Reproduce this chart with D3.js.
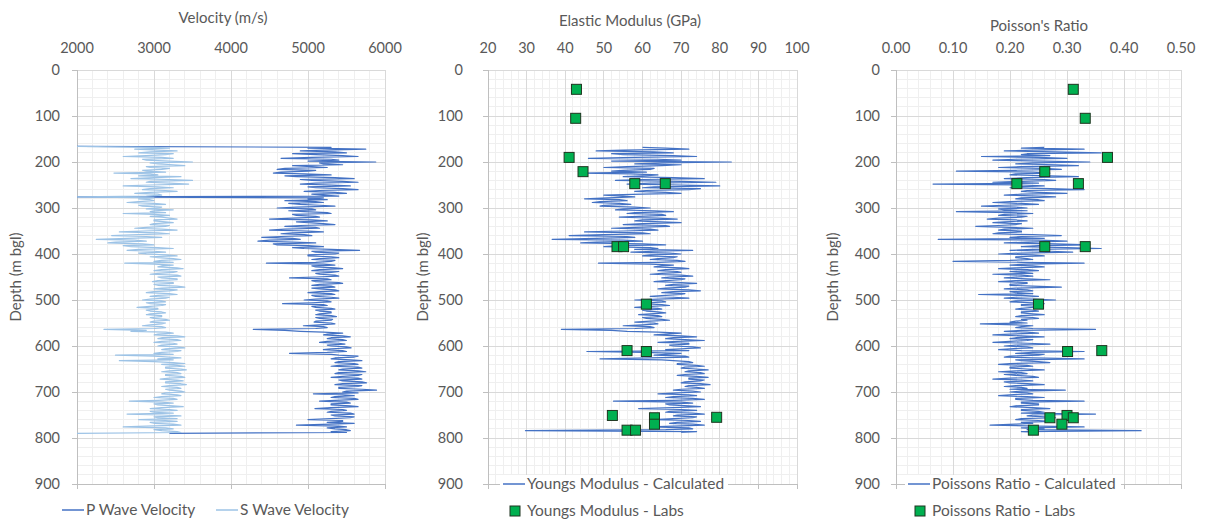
<!DOCTYPE html>
<html><head><meta charset="utf-8">
<script src="https://cdn.jsdelivr.net/npm/d3@7"></script>
<style>
html,body{margin:0;padding:0;background:#fff;}
text{font-family:Lato,"Open Sans",sans-serif;fill:#595959;}
</style>
</head><body>
<svg id="chart" width="1205" height="520"></svg>
<script>
// ---------------- DATA ----------------
const depth = [166,
168,170,172,174,176,178,180,182,184,186,188,190,192,194,196,198,200,202,204,206,
208,210,212,214,216,218,220,222,224,226,228,230,232,234,236,238,240,242,244,246,
248,250,252,254,256,258,260,262,264,266,268,270,272,274,276,278,280,282,284,286,
288,290,292,294,296,298,300,302,304,306,308,310,312,314,316,318,320,322,324,326,
328,330,332,334,336,338,340,342,344,346,348,350,352,354,356,358,360,362,364,366,
368,370,372,374,376,378,380,382,384,386,388,390,392,394,396,398,400,402,404,406,
408,410,412,414,416,418,420,422,424,426,428,430,432,434,436,438,440,442,444,446,
448,450,452,454,456,458,460,462,464,466,468,470,472,474,476,478,480,482,484,486,
488,490,492,494,496,498,500,502,504,506,508,510,512,514,516,518,520,522,524,526,
528,530,532,534,536,538,540,542,544,546,548,550,552,554,556,558,560,562,564,566,
568,570,572,574,576,578,580,582,584,586,588,590,592,594,596,598,600,602,604,606,
608,610,612,614,616,618,620,622,624,626,628,630,632,634,636,638,640,642,644,646,
648,650,652,654,656,658,660,662,664,666,668,670,672,674,676,678,680,682,684,686,
688,690,692,694,696,698,700,702,704,706,708,710,712,714,716,718,720,722,724,726,
728,730,732,734,736,738,740,742,744,746,748,750,752,754,756,758,760,762,764,766,
768,770,772,774,776,778,780,782,784,786,788,790];

const pWave = [2000,
5300,5000,5750,5200,4900,5350,5500,4800,5100,5450,5650,5050,4650,5300,5400,5000,5880,5150,5200,5450,
4800,5050,5250,4700,4600,5100,5000,4650,4550,4950,5300,4700,4850,5350,5600,4900,5050,5450,5650,5100,
4900,5300,5550,5000,5100,5450,5650,5150,4950,5350,5500,5050,5200,5400,2000,5200,5000,5250,4700,5100,
5200,4750,4900,5150,5350,4850,4600,5050,5100,4750,4950,5250,5300,4800,4850,5100,5150,4800,4500,5050,
5250,4850,5000,5200,5350,4900,4700,5100,5150,4700,4500,5000,5200,4800,4650,4950,5050,4650,4400,4800,
4900,4500,4350,4800,5100,4550,4600,5000,5200,4800,4950,5300,5670,5050,5100,5400,5350,5000,5000,5300,
5400,5150,5050,5350,5300,5100,4460,5200,5350,5050,5100,5350,5450,5150,5050,5400,5300,5100,5150,5350,
5400,5100,4760,5250,5300,5050,5100,5400,5450,5150,5050,5300,5350,5050,5150,5350,5400,5150,5000,5300,
5350,5050,5100,5300,5400,5100,4950,5250,5300,5050,4670,5200,5250,5050,5100,5300,5350,5100,5150,5300,
5300,5150,5100,5300,5370,5100,5150,5320,5300,5100,5080,5300,5350,5150,4940,5200,5250,5100,4290,4700,
4900,5200,5450,5250,5200,5450,5550,5300,5250,5450,5500,5250,5150,5400,5480,5250,5300,5500,5560,5300,
5200,5450,5500,5250,4760,5300,5400,5650,5600,5350,5300,5550,5700,5400,5350,5600,5650,5400,5300,5650,
5700,5450,5400,5650,5750,5400,5350,5700,5650,5450,5300,5650,5700,5400,5450,5700,5760,5450,5350,5700,
5650,5400,5400,5700,5890,5500,5450,5650,5070,5450,5600,5350,5300,5600,5650,5350,5150,5500,5550,5300,
5300,5550,5650,5300,5090,5450,5500,5300,5250,5550,5600,5300,5350,5600,5550,5300,5000,5450,5450,5250,
5600,5300,4850,5400,5500,5250,5350,5500,5550,5300,5500,3200];

const sWave = [2000,
3000,3200,2750,3050,3300,2950,2800,3250,3150,2900,2600,3100,3250,2850,2900,3200,3500,2950,3050,3250,
3400,2900,2950,3200,3100,2850,2900,3150,2480,2950,3050,2800,3350,3000,2700,3200,3500,2950,2900,3200,
3450,2950,2600,3050,3250,2950,2850,3150,3300,2950,2750,3050,3100,2900,2000,3000,2800,2950,3000,2800,
2650,3000,3150,2800,2850,3100,3050,2900,3250,3000,2950,3150,2600,3000,3200,2950,3100,3200,3300,3000,
3000,3150,3250,3000,2950,3200,3150,2900,2750,3100,3300,2850,2550,3050,3200,2800,2450,2900,3100,2650,
2250,2750,2900,2500,2400,2850,3000,2600,2700,3050,3250,2800,2650,3000,3150,2800,2900,3150,3300,2950,
3050,3250,3350,3100,3000,3250,2620,3000,3250,3100,3050,3300,3380,3100,3000,3300,3250,3050,2950,3300,
3350,3050,3100,3300,3300,3050,2980,3250,3250,3000,3050,3300,3400,3100,3000,3300,3200,3000,2900,3200,
3300,3050,2950,3200,3150,2950,2850,3100,3150,2900,2950,3150,3100,2950,2780,3050,3050,2900,2950,3100,
3150,2950,2900,3100,3100,2950,3000,3150,3200,3000,2950,3150,3100,2950,2850,3100,3150,3000,2350,2900,
2700,3150,3250,3050,3000,3300,3400,3100,3050,3300,3350,3100,3000,3250,3300,3100,3050,3300,3400,3150,
3100,3350,3300,3100,3000,3250,2500,3000,3200,3350,3050,3250,2550,3000,3250,3400,3100,3300,3400,3150,
3150,3350,3420,3200,3100,3300,3350,3150,3150,3350,3400,3200,3080,3300,3380,3150,3150,3350,3420,3200,
3100,3300,3350,3150,3200,3350,3400,3150,3100,3300,3350,3100,3000,3250,3300,3050,2680,3100,3250,3000,
3050,3250,3380,3100,2950,3200,3300,2950,3000,3250,2650,3100,3350,3000,3050,3300,2800,3150,3300,2950,
3000,3250,3350,2900,2600,3150,3250,3000,3100,3300,3350,2000];

const youngsCalc = [null,
60,66,72,55,48,63,68,52,55,68,74,58,46,64,70,52,83,65,58,70,
65,56,50,63,62,55,52,61,44,57,64,60,55,68,76,60,53,70,79,62,
56,70,80,63,60,75,72,61,58,66,70,60,50,55,58,51,45,54,56,49,
47,54,57,50,49,58,62,55,53,63,68,58,56,65,66,59,54,64,69,60,
58,65,70,60,55,66,67,58,52,62,64,55,45,60,62,50,41,56,58,48,
36.6,55,60,48,44,60,66,54,50,62,64,58,73,63,57,67,70,62,60,69,
68,64,62,69,71,64,48.6,62,68,65,63,70,72,66,64,69,70,65,62,70,
73,67,65,71,70,66,63,70,74,68,66,72,71,66,64,72,75,68,65,71,
70,66,62,68,72,64,58,65,66,62,60,65,67,62,58,64,65,60,61,64,
66,62,59,64,65,60,61,65,67,62,58,63,64,60,55,62,63,58,39,52,
56,64,70,66,63,70,74,68,66,71,76,69,64,72,72,67,68,73,75,70,
66,72,45.6,60,70,66,63,71,72,62,49,65,68,72,73,69,69,74,76,71,
70,74,77,72,71,75,76,71,69,74,77,72,72,76,75,71,70,75,77.5,72,
71,74,76,70,68,73,75,69,64,72,74,68,66,73,76,68,52.5,70,73,66,
67,72,75,68,59,70,74,67,66,73,76,69,68,74,73,68,63,72,75,69,
67,73,76,68,62,72,73,66,29.7,74,70,null];

const poissonCalc = [null,
0.26,0.22,0.33,0.24,0.19,0.28,0.36,0.23,0.22,0.27,0.15,0.25,0.30,0.21,0.17,0.26,0.34,0.24,0.21,0.28,
0.32,0.22,0.18,0.26,0.29,0.21,0.106,0.24,0.27,0.21,0.20,0.27,0.32,0.23,0.19,0.26,0.28,0.22,0.17,0.25,
0.065,0.22,0.26,0.21,0.20,0.27,0.33,0.23,0.22,0.25,0.30,0.22,0.19,0.25,0.28,0.22,0.21,0.25,0.26,0.20,
0.17,0.22,0.25,0.19,0.15,0.21,0.23,0.18,0.19,0.23,0.106,0.20,0.24,0.19,0.18,0.23,0.22,0.18,0.16,0.21,
0.23,0.19,0.17,0.22,0.21,0.18,0.14,0.20,0.24,0.19,0.18,0.22,0.22,0.18,0.17,0.24,0.29,0.22,0.20,0.26,
0.074,0.25,0.30,0.23,0.19,0.28,0.34,0.25,0.22,0.30,0.36,0.24,0.20,0.27,0.31,0.22,0.18,0.24,0.26,0.21,
0.21,0.23,0.24,0.20,0.10,0.22,0.33,0.23,0.20,0.24,0.26,0.21,0.18,0.23,0.25,0.20,0.22,0.24,0.17,0.22,
0.24,0.21,0.19,0.23,0.27,0.21,0.18,0.23,0.23,0.20,0.20,0.24,0.29,0.21,0.19,0.23,0.24,0.20,0.21,0.24,
0.145,0.22,0.25,0.21,0.19,0.24,0.28,0.21,0.20,0.24,0.26,0.22,0.22,0.25,0.24,0.22,0.21,0.24,0.25,0.22,
0.22,0.24,0.26,0.22,0.21,0.24,0.25,0.22,0.23,0.21,0.20,0.23,0.148,0.21,0.24,0.22,0.21,0.24,0.35,0.22,
0.19,0.23,0.25,0.20,0.17,0.22,0.26,0.21,0.20,0.24,0.23,0.20,0.17,0.23,0.27,0.21,0.19,0.23,0.24,0.20,
0.18,0.22,0.33,0.24,0.21,0.26,0.25,0.20,0.19,0.24,0.33,0.21,0.22,0.25,0.27,0.20,0.18,0.23,0.24,0.20,
0.20,0.23,0.26,0.21,0.18,0.22,0.23,0.19,0.21,0.24,0.25,0.20,0.17,0.22,0.24,0.19,0.20,0.23,0.26,0.21,
0.19,0.22,0.23,0.20,0.297,0.22,0.20,0.23,0.24,0.20,0.18,0.23,0.26,0.21,0.21,0.24,0.33,0.22,0.22,0.25,
0.25,0.21,0.20,0.24,0.27,0.22,0.22,0.25,0.26,0.22,0.35,0.24,0.23,0.26,0.28,0.22,0.21,0.25,0.27,0.22,
0.24,0.21,0.165,0.25,0.33,0.22,0.26,0.23,0.43,0.22,0.25,null];

const labDepth   = [42, 105, 190, 221, 247, 247, 384, 384, 509, 610, 612, 751, 756, 755, 770, 783, 783];
const youngsLab  = [42.9, 42.7, 41.0, 44.6, 58.0, 65.9, 53.4, 55.1, 61.0, 56.0, 61.0, 52.2, 63.1, 79.2, 63.1, 56.0, 58.2];
const labDepthP  = [42, 105, 190, 221, 247, 247, 384, 384, 509, 610, 612, 751, 756, 756, 770, 783];
const poissonLab = [0.311, 0.332, 0.371, 0.261, 0.212, 0.320, 0.261, 0.332, 0.250, 0.361, 0.301, 0.300, 0.270, 0.311, 0.291, 0.241];

const depthTicks = [0,100,200,300,400,500,600,700,800,900];
const velTicks = [2000,3000,4000,5000,6000];
const modTicks = [20,30,40,50,60,70,80,90,100];
const prTicks = [0,0.1,0.2,0.3,0.4,0.5];

// ---------------- DRAW ----------------
const svg = d3.select("#chart");
svg.append("rect").attr("width",1205).attr("height",520).attr("fill","#fff");

const y = d3.scaleLinear().domain([0,900]).range([70,484]);
const DARK = "#4472C4", LIGHT = "#9DC3E6";

const panels = [
  {x0:77, x1:385, dom:[2000,6000], ticks:velTicks, minor:200, fmt:d=>String(d),
   title:"Velocity (m/s)", tx:223, ty:23, ylabR:60, dtx:21},
  {x0:488, x1:797, dom:[20,100], ticks:modTicks, minor:2, fmt:d=>String(d),
   title:"Elastic Modulus (GPa)", tx:630, ty:26, ylabR:463, dtx:428},
  {x0:896, x1:1181, dom:[0,0.5], ticks:prTicks, minor:0.02, fmt:d3.format(".2f"),
   title:"Poisson's Ratio", tx:1039, ty:31, ylabR:880, dtx:838}
];

panels.forEach((p,pi)=>{
  const x = d3.scaleLinear().domain(p.dom).range([p.x0,p.x1]);
  p.x = x;
  const g = svg.append("g");
  const nMinX = Math.round((p.dom[1]-p.dom[0])/p.minor);
  for(let k=0;k<=nMinX;k++){
    const v = p.dom[0]+k*p.minor;
    g.append("line").attr("x1",x(v)).attr("x2",x(v)).attr("y1",70).attr("y2",484)
      .attr("stroke","#EFEFEF").attr("stroke-width",1).attr("shape-rendering","crispEdges");
  }
  for(let k=0;k<=45;k++){
    const v = k*20;
    g.append("line").attr("x1",p.x0).attr("x2",p.x1).attr("y1",y(v)).attr("y2",y(v))
      .attr("stroke","#EFEFEF").attr("stroke-width",1).attr("shape-rendering","crispEdges");
  }
  p.ticks.forEach(v=>{
    g.append("line").attr("x1",x(v)).attr("x2",x(v)).attr("y1",70).attr("y2",484)
      .attr("stroke","#D9D9D9").attr("stroke-width",1).attr("shape-rendering","crispEdges");
  });
  depthTicks.forEach(v=>{
    g.append("line").attr("x1",p.x0).attr("x2",p.x1).attr("y1",y(v)).attr("y2",y(v))
      .attr("stroke","#D9D9D9").attr("stroke-width",1).attr("shape-rendering","crispEdges");
  });
  g.append("line").attr("x1",p.x0).attr("x2",p.x0).attr("y1",70).attr("y2",484)
    .attr("stroke","#BFBFBF").attr("shape-rendering","crispEdges");
  depthTicks.forEach(v=>{
    g.append("line").attr("x1",p.x0-5).attr("x2",p.x0).attr("y1",y(v)).attr("y2",y(v))
      .attr("stroke","#BFBFBF").attr("shape-rendering","crispEdges");
    g.append("text").attr("x",p.ylabR).attr("y",y(v)+5).attr("text-anchor","end")
      .attr("font-size",14.5).text(v);
  });
  g.append("line").attr("x1",p.x0).attr("x2",p.x1).attr("y1",484).attr("y2",484)
    .attr("stroke","#BFBFBF").attr("shape-rendering","crispEdges");
  p.ticks.forEach(v=>{
    g.append("line").attr("x1",x(v)).attr("x2",x(v)).attr("y1",484).attr("y2",489)
      .attr("stroke","#BFBFBF").attr("shape-rendering","crispEdges");
    g.append("text").attr("x",x(v)).attr("y",53).attr("text-anchor","middle")
      .attr("font-size",14.5).text(p.fmt(v));
  });
  g.append("text").attr("x",p.tx).attr("y",p.ty).attr("text-anchor","middle")
    .attr("font-size",15).text(p.title);
  g.append("text").attr("transform",`translate(${p.dtx},277) rotate(-90)`)
    .attr("text-anchor","middle").attr("font-size",15).text("Depth (m bgl)");
  svg.append("clipPath").attr("id","clip"+pi).append("rect")
    .attr("x",p.x0).attr("y",70).attr("width",p.x1-p.x0).attr("height",414);
});

function drawLine(p, pi, vals, color){
  const line = d3.line()
    .defined((d,i)=>vals[i]!==null)
    .x((d,i)=>p.x(vals[i])).y(d=>y(d));
  svg.append("path").datum(depth).attr("d",line)
    .attr("clip-path",`url(#clip${pi})`)
    .attr("fill","none").attr("stroke",color).attr("stroke-width",1.2)
    .attr("stroke-linejoin","round");
}
drawLine(panels[0],0,pWave,DARK);
drawLine(panels[0],0,sWave,LIGHT);
drawLine(panels[1],1,youngsCalc,DARK);
drawLine(panels[2],2,poissonCalc,DARK);

function drawMarkers(p, ds, vals){
  svg.append("g").selectAll("rect").data(vals).join("rect")
    .attr("x",d=>p.x(d)-5).attr("y",(d,i)=>y(ds[i])-5)
    .attr("width",10).attr("height",10)
    .attr("fill","#00B050").attr("stroke","#1F3520").attr("stroke-width",1);
}
drawMarkers(panels[1], labDepth, youngsLab);
drawMarkers(panels[2], labDepthP, poissonLab);

// ---------------- LEGENDS ----------------
function lineLegend(x, yy, color, label, bg){
  const g = svg.append("g");
  if(bg){
    g.append("rect").attr("x",x-3).attr("y",yy-9).attr("width",bg).attr("height",18).attr("fill","#fff");
  }
  g.append("line").attr("x1",x).attr("x2",x+22).attr("y1",yy).attr("y2",yy)
    .attr("stroke",color).attr("stroke-width",1.5);
  g.append("text").attr("x",x+24).attr("y",yy+5).attr("font-size",15.5).text(label);
}
function markerLegend(x, yy, label){
  const g = svg.append("g");
  g.append("rect").attr("x",x-5).attr("y",yy-5).attr("width",10).attr("height",10)
    .attr("fill","#00B050").attr("stroke","#1F3520");
  g.append("text").attr("x",x+12).attr("y",yy+5).attr("font-size",15.5).text(label);
}
lineLegend(62, 510, DARK, "P Wave Velocity");
lineLegend(216, 510, LIGHT, "S Wave Velocity");
lineLegend(503, 484, DARK, "Youngs Modulus - Calculated", 228);
markerLegend(515, 511, "Youngs Modulus - Labs");
lineLegend(908, 484, DARK, "Poissons Ratio - Calculated", 216);
markerLegend(920, 511, "Poissons Ratio - Labs");
</script>
</body></html>
